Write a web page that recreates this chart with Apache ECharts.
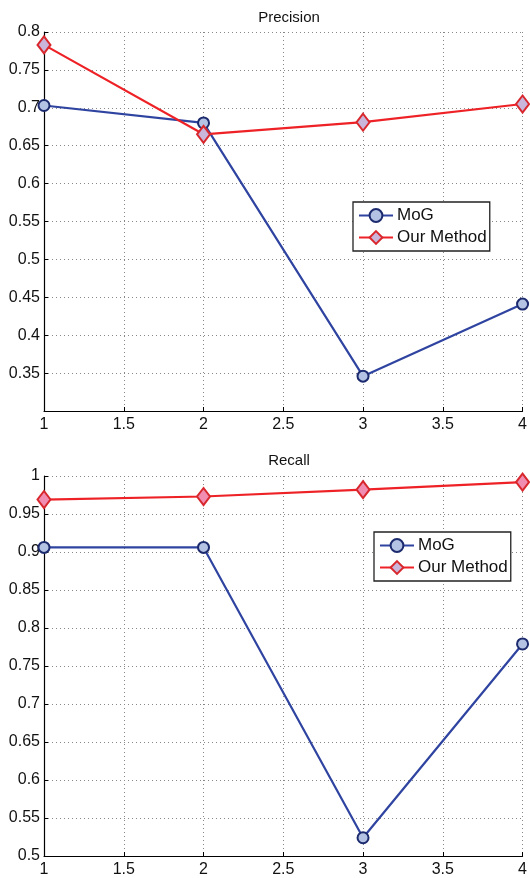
<!DOCTYPE html>
<html><head><meta charset="utf-8">
<script src="https://cdn.jsdelivr.net/npm/echarts@6/dist/echarts.min.js"></script>
<style>html,body{margin:0;padding:0;background:#fff}#c{width:530px;height:878px}</style>
</head><body><div id="c"></div>
<script>
const xValues = [1, 2, 3, 4];
const precisionMoG = [0.703, 0.680, 0.346, 0.441];
const precisionOurs = [0.783, 0.665, 0.681, 0.705];
const recallMoG = [0.906, 0.906, 0.524, 0.779];
const recallOurs = [0.969, 0.973, 0.982, 0.992];
const titles = ['Precision', 'Recall'];
const seriesNames = ['MoG', 'Our Method'];

const FONT = '"Liberation Sans", Arial, sans-serif';
const pair = (xs, ys) => xs.map((x, i) => [x, ys[i]]);

const blue = '#2f44a0', blueFill = '#b4c2e4', blueEdge = '#1c2a6e';
const red = '#ee2226', redFill1 = '#c9b6da', redFill2 = '#f08db0', redEdge = '#d8282e';

function xAxis(gi) {
  return {
    type: 'value', gridIndex: gi, min: 1, max: 4, interval: 0.5,
    axisLine: { show: true, onZero: false, lineStyle: { color: '#000', width: 1.2 } },
    axisTick: { show: true, inside: true, length: 4, lineStyle: { color: '#000' } },
    axisLabel: { color: '#111', fontSize: 16, fontFamily: FONT, margin: 6 },
    splitLine: { show: true, lineStyle: { color: '#888', type: [1, 3], width: 1 } }
  };
}
function yAxis(gi, min, max, hideMin) {
  return {
    type: 'value', gridIndex: gi, min: min, max: max, interval: 0.05,
    axisLine: { show: true, onZero: false, lineStyle: { color: '#000', width: 1.2 } },
    axisTick: { show: true, inside: true, length: 4, lineStyle: { color: '#000' } },
    axisLabel: { color: '#111', fontSize: 16, fontFamily: FONT, margin: 4, showMinLabel: !hideMin,
      formatter: v => String(Math.round(v * 100) / 100) },
    splitLine: { show: true, lineStyle: { color: '#888', type: [1, 3], width: 1 } }
  };
}
function mogSeries(gi, data) {
  return { name: seriesNames[0], type: 'line', xAxisIndex: gi, yAxisIndex: gi, data: pair(xValues, data),
    symbol: 'circle', symbolSize: 11, lineStyle: { color: blue, width: 2.2 },
    itemStyle: { color: blueFill, borderColor: blueEdge, borderWidth: 2 }, z: 3 };
}
function oursSeries(gi, data, fill) {
  return { name: seriesNames[1], type: 'line', xAxisIndex: gi, yAxisIndex: gi, data: pair(xValues, data),
    symbol: 'diamond', symbolSize: [13, 17], lineStyle: { color: red, width: 2.2 },
    itemStyle: { color: fill, borderColor: redEdge, borderWidth: 2 }, z: 4 };
}
function legend(left, top) {
  return { left: left, top: top, width: 138, orient: 'vertical', itemGap: 5, itemWidth: 34, itemHeight: 16,
    padding: [5, 3, 5, 5], borderColor: '#222', borderWidth: 1.3, backgroundColor: '#fff',
    textStyle: { fontSize: 17, fontFamily: FONT, color: '#111', padding: [0, 0, 0, -1] },
    data: [{ name: seriesNames[0] }, { name: seriesNames[1] }] };
}

const chart = echarts.init(document.getElementById('c'), null, { renderer: 'canvas' });
chart.setOption({
  animation: false,
  title: [
    { text: titles[0], left: 284, top: 5, textAlign: 'center', textStyle: { fontSize: 15, fontWeight: 'normal', fontFamily: FONT, color: '#111' } },
    { text: titles[1], left: 284, top: 448, textAlign: 'center', textStyle: { fontSize: 15, fontWeight: 'normal', fontFamily: FONT, color: '#111' } }
  ],
  grid: [
    { left: 44, top: 32, width: 481, height: 379 },
    { left: 44, top: 476, width: 481, height: 380 }
  ],
  legend: [legend(353, 202), legend(374, 532)],
  xAxis: [xAxis(0), xAxis(1)],
  yAxis: [yAxis(0, 0.3, 0.8, true), yAxis(1, 0.5, 1.0, false)],
  series: [
    mogSeries(0, precisionMoG), oursSeries(0, precisionOurs, redFill1),
    mogSeries(1, recallMoG), oursSeries(1, recallOurs, redFill2)
  ]
});
</script></body></html>
